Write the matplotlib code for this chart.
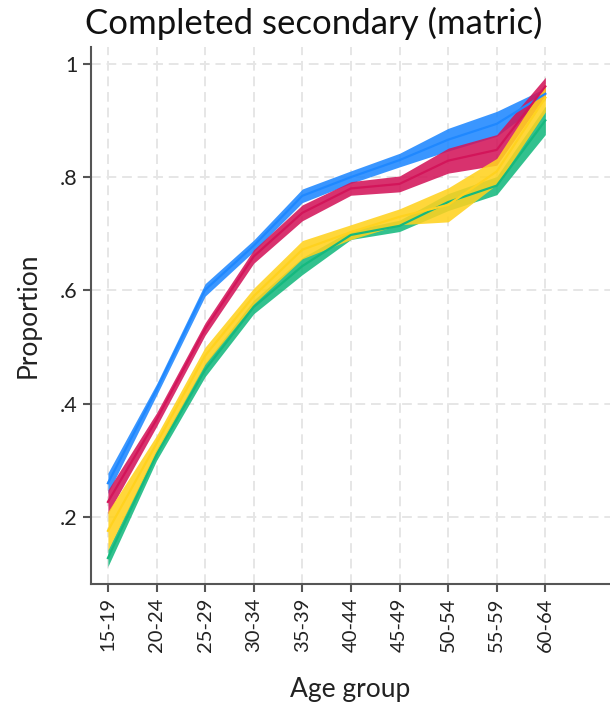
import matplotlib
matplotlib.use("Agg")
import matplotlib.pyplot as plt
import numpy as np

plt.rcParams['font.family'] = ['Lato', 'DejaVu Sans']

# Age groups on the x axis
age_groups = ["15-19", "20-24", "25-29", "30-34", "35-39",
              "40-44", "45-49", "50-54", "55-59", "60-64"]

# Proportion with completed matric, point estimates
blue = [0.260, 0.425, 0.601, 0.679, 0.767, 0.800, 0.830, 0.866, 0.894, 0.947]
crimson = [0.227, 0.372, 0.532, 0.660, 0.737, 0.780, 0.788, 0.829, 0.848, 0.960]
yellow = [0.176, 0.330, 0.485, 0.590, 0.672, 0.703, 0.730, 0.751, 0.810, 0.940]
green = [0.128, 0.310, 0.460, 0.571, 0.643, 0.698, 0.714, 0.756, 0.785, 0.900]

# Confidence interval half-widths
blue_ci = [0.018, 0.010, 0.011, 0.010, 0.012, 0.011, 0.012, 0.020, 0.022, 0.010]
crimson_ci = [0.021, 0.012, 0.011, 0.012, 0.014, 0.012, 0.014, 0.022, 0.027, 0.016]
yellow_ci = [0.034, 0.014, 0.015, 0.014, 0.016, 0.013, 0.014, 0.030, 0.023, 0.025]
green_ci = [0.015, 0.010, 0.012, 0.012, 0.015, 0.008, 0.010, 0.015, 0.016, 0.025]

series = [
    (blue, blue_ci, "#1f88ff"),
    (crimson, crimson_ci, "#d3155a"),
    (green, green_ci, "#15b97e"),
    (yellow, yellow_ci, "#ffd21f"),
]

fig = plt.figure(figsize=(6.1, 7.08), dpi=100)
ax = fig.add_axes([0.149, 0.175, 0.851, 0.759])

x = np.arange(len(age_groups))

# Bands first, then the point-estimate lines on top
for vals, ci, col in series:
    v = np.array(vals)
    c = np.array(ci)
    ax.fill_between(x, v - c, v + c, color=col, alpha=0.88, lw=0, zorder=2)
for vals, ci, col in series:
    ax.plot(x, vals, color=col, lw=1.6, zorder=3)

ax.set_xlim(-0.35, 10.33)
ax.set_ylim(0.082, 1.03)

ax.set_xticks(x)
ax.set_xticklabels(age_groups, rotation=90, fontsize=14.5, color="#222222")
ax.set_yticks([0.2, 0.4, 0.6, 0.8, 1.0])
ax.set_yticklabels([".2", ".4", ".6", ".8", "1"], fontsize=15.5, color="#222222")

ax.grid(True, color="#e6e6e6", lw=1.4, linestyle=(0, (5, 3)), zorder=0)
ax.set_axisbelow(True)

for side in ["top", "right"]:
    ax.spines[side].set_visible(False)
for side in ["left", "bottom"]:
    ax.spines[side].set_color("#555555")
    ax.spines[side].set_linewidth(1.5)
ax.tick_params(axis="both", length=6, width=1.5, color="#555555")

ax.set_xlabel("Age group", fontsize=19, color="#222222", labelpad=18)
ax.set_ylabel("Proportion", fontsize=19, color="#222222", labelpad=14)

fig.text(314 / 610, 1 - 23 / 708, "Completed secondary (matric)",
         ha="center", va="center", fontsize=25, color="#111111")

fig.savefig("out.png", dpi=100, facecolor="white")
